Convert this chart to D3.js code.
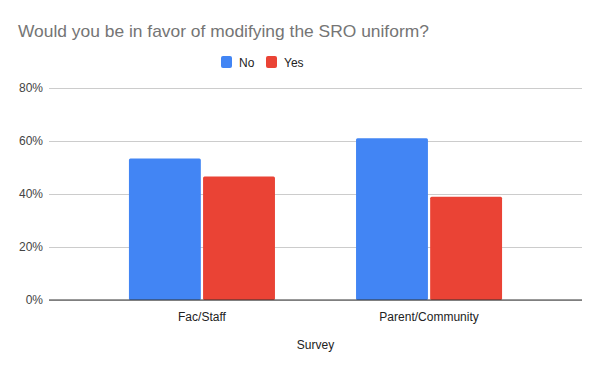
<!DOCTYPE html>
<html><head><meta charset="utf-8">
<script src="https://cdn.jsdelivr.net/npm/d3@7"></script>
<style>body{margin:0;background:#fff}svg{display:block;font-family:Arial,"Liberation Sans",sans-serif}</style>
</head><body>
<script>
const categories = ["Fac/Staff", "Parent/Community"];
const seriesNames = ["No", "Yes"];
const noValues = [0.534, 0.61];
const yesValues = [0.466, 0.39];
const yTicks = [0, 0.2, 0.4, 0.6, 0.8];
const colors = ["#4285F4", "#EA4335"];
const titleText = "Would you be in favor of modifying the SRO uniform?";
const xTitle = "Survey";

(function () {
const W = 600, H = 371;
const svg = d3.select("body").append("svg").attr("width", W).attr("height", H);
svg.append("rect").attr("width", W).attr("height", H).attr("fill", "#fff");

const pLeft = 49, pRight = 582, pTop = 88, pBottom = 300;
const y = d3.scaleLinear().domain([0, 0.8]).range([pBottom, pTop]);
const x0 = d3.scaleBand().domain(categories).range([pLeft, pRight]).paddingInner(0.357).paddingOuter(0.352);
const x1 = d3.scaleBand().domain(seriesNames).range([0, x0.bandwidth()]).paddingInner(0.03);

// title
const t = svg.append("text").attr("x", 18).attr("y", 37).attr("font-size", 18.5).attr("fill", "#757575").text(titleText);
const tw = t.node().getComputedTextLength();
if (tw > 411) t.attr("font-size", 18.5 * 411 / tw);

// gridlines
const yAxis = d3.axisLeft(y).tickValues(yTicks).tickFormat(d3.format(".0%")).tickSize(-(pRight - pLeft)).tickPadding(6);
const ga = svg.append("g").attr("transform", `translate(${pLeft},0)`).call(yAxis);
ga.select(".domain").remove();
ga.selectAll(".tick line").attr("stroke", "#cccccc").attr("stroke-width", 1);
ga.selectAll(".tick text").attr("fill", "#444").attr("font-size", 12).attr("font-family", "Arial, 'Liberation Sans', sans-serif");

// bars
const data = categories.map((c, i) => ({cat: c, vals: [noValues[i], yesValues[i]]}));
const groups = svg.append("g").selectAll("g").data(data).join("g")
  .attr("transform", d => `translate(${x0(d.cat)},0)`);
groups.selectAll("rect").data(d => d.vals.map((v, j) => ({name: seriesNames[j], v, j})))
  .join("rect")
  .attr("x", d => x1(d.name)).attr("width", x1.bandwidth())
  .attr("y", d => y(d.v)).attr("height", d => y(0) - y(d.v))
  .attr("rx", 1.5)
  .attr("fill", d => colors[d.j]);

// baseline
svg.append("line").attr("x1", pLeft).attr("x2", pRight).attr("y1", y(0)).attr("y2", y(0)).attr("stroke", "#333").attr("stroke-width", 1);

// x axis labels
const xAxis = d3.axisBottom(x0).tickSize(0).tickPadding(12);
const gx = svg.append("g").attr("transform", `translate(0,${pBottom})`).call(xAxis);
gx.select(".domain").remove();
gx.selectAll(".tick text").attr("fill", "#222").attr("font-size", 12).attr("font-family", "Arial, 'Liberation Sans', sans-serif");

svg.append("text").attr("x", (pLeft + pRight) / 2).attr("y", 349).attr("text-anchor", "middle")
  .attr("font-size", 12).attr("fill", "#222").text(xTitle);

// legend
const legendX = [221, 266];
const lg = svg.append("g").selectAll("g").data(seriesNames).join("g")
  .attr("transform", (d, i) => `translate(${legendX[i]},56)`);
lg.append("rect").attr("width", 11).attr("height", 12).attr("rx", 2).attr("fill", (d, i) => colors[i]);
lg.append("text").attr("x", 18).attr("y", 10.5).attr("font-size", 12).attr("fill", "#222").text(d => d);
})();
</script>
</body></html>
